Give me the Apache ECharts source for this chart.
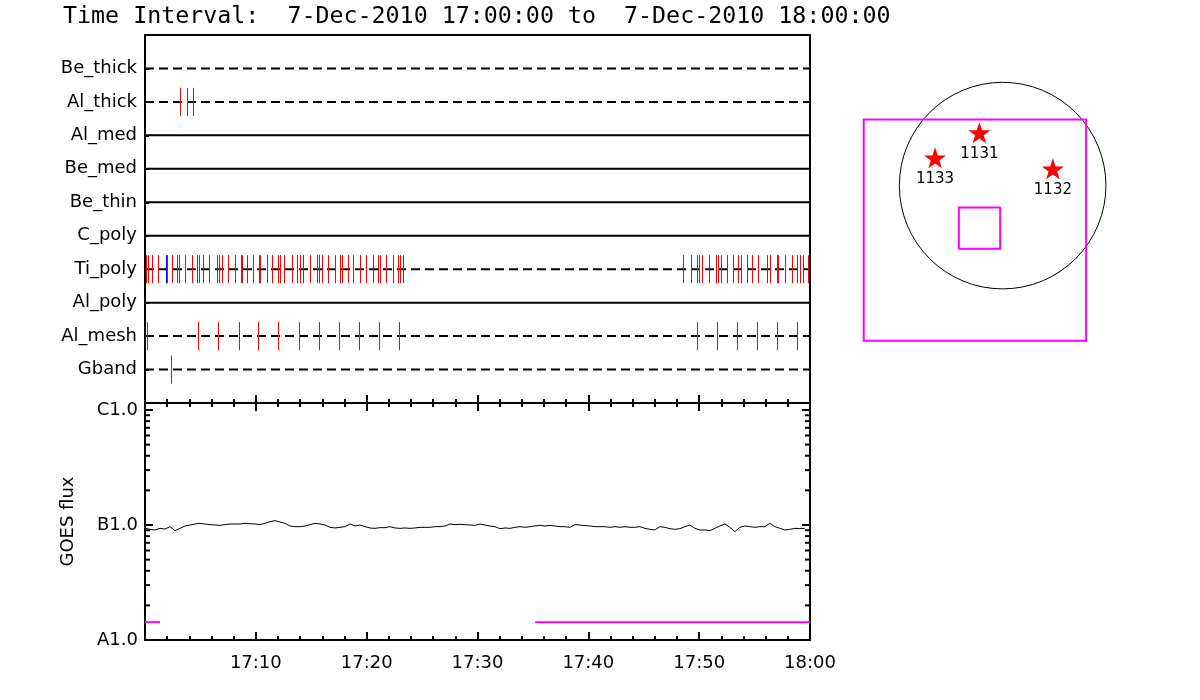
<!DOCTYPE html>
<html><head><meta charset="utf-8">
<script src="https://cdn.jsdelivr.net/npm/echarts@6/dist/echarts.min.js"></script>
<style>html,body{margin:0;padding:0;background:#fff}#c{width:1200px;height:700px}</style>
</head><body><div id="c"></div>
<script>
// ---------------- data ----------------
const titleText = 'Time Interval:  7-Dec-2010 17:00:00 to  7-Dec-2010 18:00:00';
// rows from bottom (value 1) to top (value 10)
const rowNames  = ['Gband','Al_mesh','Al_poly','Ti_poly','C_poly','Be_thin','Be_med','Al_med','Al_thick','Be_thick'];
const rowDashed = [true, true, false, true, false, false, false, false, true, true];
// event times, minutes after 17:00
const eventsGband   = [2.32];
const eventsAlMesh  = [0.21, 4.81, 6.61, 8.51, 10.22, 12.03, 13.92, 15.72, 17.53, 19.33, 21.14, 22.95,
                       49.83, 51.64, 53.44, 55.25, 57.05, 58.86];
const eventsTiPoly  = [0.09, 0.30, 0.60, 1.20, 2.01, 2.41, 2.91, 3.04, 3.61, 4.21, 4.72, 4.87, 5.26, 5.80,
                       6.52, 6.70, 6.92, 7.52, 8.12, 8.63, 8.78, 9.23, 9.77, 10.31, 10.38, 10.98, 11.49,
                       12.03, 12.18, 12.57, 13.29, 13.69, 13.99, 14.28, 14.89, 15.55, 15.73, 15.94, 16.54,
                       17.14, 17.59, 17.75, 18.34, 18.79, 19.40, 19.94, 20.60, 21.05, 21.20, 21.75, 22.35,
                       22.86, 23.01, 23.31,
                       48.57, 49.24, 49.78, 49.96, 50.23, 50.89, 51.49, 51.73, 51.95, 52.49, 53.09, 53.54,
                       53.76, 54.30, 54.75, 55.35, 56.10, 56.40, 57.05, 57.14, 57.75, 58.35, 58.80, 59.10,
                       59.35, 59.85];
const eventsTiPolyBlue = [1.89];
const eventsAlThick = [3.16, 3.82, 4.36];

const timeTickLabels = ['17:00','17:10','17:20','17:30','17:40','17:50','18:00'];

// GOES flux (units of 1e-7 W/m^2)
const goesTimes = [0.00,0.45,0.90,1.35,1.80,2.26,2.71,3.16,3.61,4.06,4.51,4.96,5.41,5.86,6.32,6.77,7.22,7.67,
  8.12,8.57,9.02,9.47,9.92,10.38,10.83,11.28,11.73,12.18,12.63,13.08,13.53,13.98,14.44,14.89,15.34,15.79,16.24,
  16.69,17.14,17.59,18.04,18.50,18.95,19.40,19.85,20.30,20.75,21.20,21.65,22.10,22.56,23.01,23.46,23.91,24.36,
  24.81,25.26,25.71,26.16,26.62,27.07,27.52,27.97,28.42,28.87,
  29.32,29.77,30.22,30.67,31.12,31.58,32.03,32.48,32.93,33.38,33.83,34.28,34.73,35.18,35.63,36.09,36.54,36.99,
  37.44,37.89,38.34,38.79,39.24,39.69,40.14,40.60,41.05,41.50,41.95,42.40,42.85,43.30,43.75,44.20,44.65,45.11,
  45.56,46.01,46.46,46.91,47.36,47.81,48.26,48.71,49.16,49.62,50.07,50.52,50.97,51.42,51.87,52.32,52.77,53.22,
  53.67,54.13,54.58,55.03,55.48,55.93,56.38,56.83,57.28,57.73,58.18,58.64,59.09,59.54];
const goesFlux1e7 = [0.935,0.917,0.905,0.935,0.923,0.967,0.893,0.935,0.980,1.000,1.020,1.034,1.020,1.007,1.000,
  0.993,1.007,1.020,1.020,1.020,1.034,1.027,1.020,1.007,1.034,1.069,1.091,1.062,1.034,0.980,0.967,0.967,0.980,
  1.007,1.034,1.020,1.000,0.954,0.942,0.954,0.967,1.020,0.980,1.000,0.967,0.942,0.935,0.948,0.948,0.967,0.942,
  0.935,0.942,0.935,0.942,0.954,0.954,0.954,0.967,0.967,0.980,1.020,1.007,1.013,1.007,
  1.000,0.993,1.020,1.000,0.980,0.967,0.929,0.942,0.935,0.954,0.967,0.954,0.967,0.980,0.993,0.980,0.993,0.980,
  0.967,0.967,0.954,1.007,1.000,0.987,0.980,0.967,0.967,0.967,0.954,0.967,0.954,0.967,0.954,0.954,0.967,0.935,
  0.917,0.905,0.967,0.954,0.929,0.917,0.929,0.967,1.000,0.935,0.905,0.905,0.893,0.935,0.980,1.020,0.954,0.875,
  0.954,0.980,0.967,0.954,0.967,0.967,1.034,0.967,0.935,0.905,0.917,0.935,0.929,0.935];
// magenta state line
const attenLevel = 1.43e-8;
const attenSegments = [[0, 1.35], [35.2, 60]];

const fluxTickValues = [1e-8, 1e-7, 1e-6];
const fluxTickLabels = ['A1.0', 'B1.0', 'C1.0'];
const fluxMinorTicks = [2e-8,3e-8,4e-8,5e-8,6e-8,7e-8,8e-8,9e-8,2e-7,3e-7,4e-7,5e-7,6e-7,7e-7,8e-7,9e-7];

// solar map (arcsec)
const sunRadius = 960;
const fovBox   = [-1291, -1443, 776, 615];   // x1, y1, x2, y2
const smallBox = [-407, -588, -23, -203];
const arNumbers = ['1131', '1133', '1132'];
const arX = [-216, -628, 467];
const arY = [491, 258, 156];

// ---------------- chart ----------------
const FONT = 'DejaVu Sans';
const chart = echarts.init(document.getElementById('c'), null, {renderer: 'canvas'});

const blackLine = {lineStyle: {color: '#000', width: 2}};
function tickAxisX(gridIndex, position, showLabel, withTicks) {
  return {
    type: 'value', gridIndex, position, min: 0, max: 60, interval: 10,
    axisLine: {show: true, onZero: false, ...blackLine},
    axisTick: {show: withTicks, inside: true, length: 8, lineStyle: {color: '#000', width: 2}},
    minorTick: {show: withTicks, splitNumber: 5, length: 4, lineStyle: {color: '#000', width: 2}},
    splitLine: {show: false}, minorSplitLine: {show: false},
    axisLabel: {show: showLabel, showMinLabel: false, margin: 14, color: '#000', fontFamily: FONT, fontSize: 18,
      formatter: v => timeTickLabels[Math.round(v / 10)]}
  };
}

const series = [];
// row lines
rowNames.forEach((name, i) => {
  series.push({
    type: 'line', xAxisIndex: 0, yAxisIndex: 0, silent: true, symbol: 'none', z: 2,
    data: [[0, i + 1], [60, i + 1]],
    lineStyle: {color: '#000', width: 2, type: rowDashed[i] ? [9, 5] : 'solid'}
  });
});
// events
const eventData = [];
const pushEv = (arr, row, col) => arr.forEach(t => eventData.push([t, rowNames.indexOf(row) + 1, col]));
pushEv(eventsGband, 'Gband', 0);
pushEv(eventsAlMesh, 'Al_mesh', 0);
pushEv(eventsTiPoly, 'Ti_poly', 0);
pushEv(eventsTiPolyBlue, 'Ti_poly', 1);
pushEv(eventsAlThick, 'Al_thick', 0);
const evColors = ['#ff0000', '#0000ff'];
series.push({
  type: 'custom', xAxisIndex: 0, yAxisIndex: 0, silent: true, z: 5,
  data: eventData,
  renderItem: (params, api) => {
    const c = api.coord([api.value(0), api.value(1)]);
    const h = api.size([0, 0.42])[1];
    return {type: 'line', shape: {x1: Math.round(c[0]) + 0.5, y1: c[1] - h, x2: Math.round(c[0]) + 0.5, y2: c[1] + h},
      style: {stroke: evColors[api.value(2)], lineWidth: 1}};
  }
});
// GOES
series.push({
  type: 'line', xAxisIndex: 2, yAxisIndex: 2, silent: true, symbol: 'none', z: 3,
  data: goesTimes.map((t, i) => [t, goesFlux1e7[i] * 1e-7]),
  lineStyle: {color: '#000', width: 1}
});
attenSegments.forEach(s => {
  series.push({
    type: 'line', xAxisIndex: 2, yAxisIndex: 2, silent: true, symbol: 'none', z: 3,
    data: [[s[0], attenLevel], [s[1], attenLevel]],
    lineStyle: {color: '#ff00ff', width: 2}
  });
});
// log minor ticks
series.push({
  type: 'custom', xAxisIndex: 2, yAxisIndex: 2, silent: true, z: 6,
  data: fluxMinorTicks.map(v => [0, v]),
  renderItem: (params, api) => {
    const pl = api.coord([0, api.value(1)]);
    const pr = api.coord([60, api.value(1)]);
    return {type: 'group', children: [
      {type: 'line', shape: {x1: pl[0], y1: pl[1], x2: pl[0] + 5, y2: pl[1]}, style: {stroke: '#000', lineWidth: 2}},
      {type: 'line', shape: {x1: pr[0], y1: pr[1], x2: pr[0] - 5, y2: pr[1]}, style: {stroke: '#000', lineWidth: 2}}
    ]};
  }
});
// solar map
series.push({
  type: 'custom', xAxisIndex: 4, yAxisIndex: 4, silent: true,
  data: [[0, 0, sunRadius]],
  renderItem: (params, api) => {
    const c = api.coord([api.value(0), api.value(1)]);
    const r = api.size([api.value(2), 0])[0];
    return {type: 'circle', shape: {cx: c[0], cy: c[1], r}, style: {fill: 'none', stroke: '#000', lineWidth: 1}};
  }
});
series.push({
  type: 'custom', xAxisIndex: 4, yAxisIndex: 4, silent: true,
  data: [fovBox, smallBox],
  renderItem: (params, api) => {
    const p1 = api.coord([api.value(0), api.value(3)]);
    const p2 = api.coord([api.value(2), api.value(1)]);
    return {type: 'rect', shape: {x: p1[0], y: p1[1], width: p2[0] - p1[0], height: p2[1] - p1[1]},
      style: {fill: 'none', stroke: '#ff00ff', lineWidth: 2}};
  }
});
series.push({
  type: 'scatter', xAxisIndex: 4, yAxisIndex: 4, silent: true,
  symbol: 'path://M50,0 L61.8,35.1 L98.1,35.1 L68.8,56.7 L79.4,91 L50,70 L20.6,91 L31.2,56.7 L1.9,35.1 L38.2,35.1 Z',
  symbolSize: [22, 21],
  itemStyle: {color: '#ff0000', opacity: 1},
  label: {show: true, position: 'bottom', distance: 3, color: '#000', fontFamily: FONT, fontSize: 15,
    formatter: p => arNumbers[p.dataIndex]},
  data: arX.map((x, i) => [x, arY[i]])
});

const option = {
  animation: false,
  backgroundColor: '#fff',
  graphic: [{type: 'text', left: 63, top: 5,
    style: {text: titleText, font: '23.3px "DejaVu Sans Mono"', fill: '#000'}}],
  grid: [
    {left: 145, top: 35, width: 665, height: 368},
    {left: 145, top: 403, width: 665, height: 237},
    {left: 852, top: 78, width: 269, height: 269}
  ],
  xAxis: [
    tickAxisX(0, 'bottom', false, true),
    tickAxisX(0, 'top', false, false),
    tickAxisX(1, 'bottom', true, true),
    tickAxisX(1, 'top', false, true),
    {type: 'value', gridIndex: 2, min: -1400, max: 1100, show: false}
  ],
  yAxis: [
    {type: 'value', gridIndex: 0, min: 0, max: 11, interval: 1,
      axisLine: {show: true, onZero: false, ...blackLine},
      axisTick: {show: true, inside: true, length: 4, lineStyle: {color: '#000', width: 2}},
      splitLine: {show: false},
      axisLabel: {color: '#000', fontFamily: FONT, fontSize: 18, margin: 8,
        formatter: v => (v >= 1 && v <= 10) ? rowNames[v - 1] : ''}},
    {type: 'value', gridIndex: 0, position: 'right', min: 0, max: 11,
      axisLine: {show: true, onZero: false, ...blackLine}, axisTick: {show: false},
      axisLabel: {show: false}, splitLine: {show: false}},
    {type: 'log', gridIndex: 1, logBase: 10, min: 1e-8, max: 1.15e-6,
      name: 'GOES flux', nameLocation: 'middle', nameRotate: 90, nameGap: 68,
      nameTextStyle: {color: '#000', fontFamily: FONT, fontSize: 18},
      axisLine: {show: true, onZero: false, ...blackLine},
      axisTick: {show: true, inside: true, length: 8, lineStyle: {color: '#000', width: 2}},
      splitLine: {show: false}, minorTick: {show: false},
      axisLabel: {color: '#000', fontFamily: FONT, fontSize: 18, margin: 7,
        formatter: v => { const i = fluxTickValues.findIndex(f => Math.abs(Math.log10(v) - Math.log10(f)) < 1e-6); return i >= 0 ? fluxTickLabels[i] : ''; }}},
    {type: 'log', gridIndex: 1, logBase: 10, position: 'right', min: 1e-8, max: 1.15e-6,
      axisLine: {show: true, onZero: false, ...blackLine},
      axisTick: {show: true, inside: true, length: 8, lineStyle: {color: '#000', width: 2}},
      axisLabel: {show: false}, splitLine: {show: false}},
    {type: 'value', gridIndex: 2, min: -1500, max: 1000, show: false}
  ],
  series
};
chart.setOption(option);
</script>
</body></html>
